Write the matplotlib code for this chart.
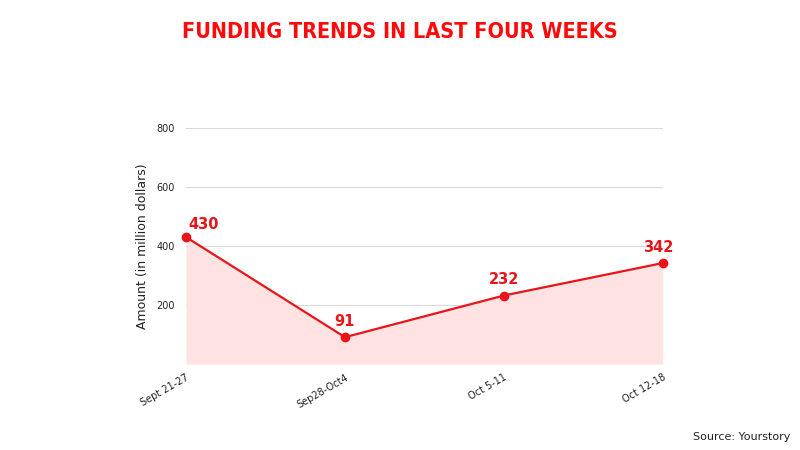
import matplotlib.pyplot as plt

weeks = ["Sept 21-27", "Sep28-Oct4", "Oct 5-11", "Oct 12-18"]
amounts = [430, 91, 232, 342]
yticks = [200, 400, 600, 800]

red = "#e8141a"

fig = plt.figure(figsize=(8, 4.5), dpi=100)
ax = fig.add_axes([0.2325, 0.191, 0.596, 0.525])

x = list(range(len(weeks)))
ax.fill_between(x, amounts, 0, color="#ffe3e3", lw=0)
ax.plot(x, amounts, color=red, lw=1.6, marker="o", ms=6, clip_on=False, zorder=3)
offsets = [(2, 4), (0, 6), (0, 6), (-3, 6)]
aligns = ["left", "center", "center", "center"]
for xi, v, off, ha in zip(x, amounts, offsets, aligns):
    ax.annotate(str(v), (xi, v), xytext=off, textcoords="offset points",
                ha=ha, va="bottom", color=red, fontsize=10.5, fontweight="bold")

ax.set_xlim(0, 3)
ax.set_ylim(0, 800)
ax.set_yticks(yticks)
ax.set_xticks(x)
ax.set_xticklabels(weeks, rotation=30, ha="right", rotation_mode="anchor", fontsize=7,
                   color="#222222")
ax.tick_params(axis="y", labelsize=7, length=0, pad=8, labelcolor="#222222")
ax.tick_params(axis="x", length=0, pad=6)
ax.grid(axis="y", color="#d9d9d9", lw=0.8)
ax.set_axisbelow(True)
for s in ax.spines.values():
    s.set_visible(False)
ax.set_ylabel("Amount (in million dollars)", fontsize=9, color="#222222", labelpad=5)

fig.text(0.5, 0.928, "FUNDING TRENDS IN LAST FOUR WEEKS", ha="center", va="center",
         color="#ff0a0a", fontsize=15.5, fontweight="bold", fontstretch="condensed",
         family="DejaVu Sans")
fig.text(0.988, 0.03, "Source: Yourstory", ha="right", va="center", fontsize=8, color="#222222")

plt.savefig("out.png", dpi=100)
